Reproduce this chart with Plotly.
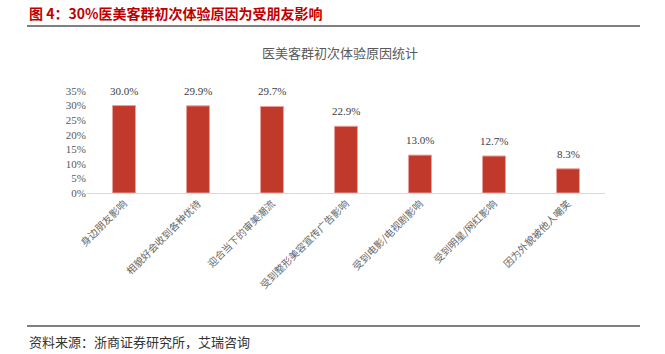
import plotly.graph_objects as go

categories = ["身边朋友影响", "相貌好会收到各种优待", "迎合当下的审美潮流", "受到整形美容宣传广告影响",
              "受到电影/电视剧影响", "受到明星/网红影响", "因为外貌被他人嘲笑"]
values = [0.300, 0.299, 0.297, 0.229, 0.130, 0.127, 0.083]
labels = ["30.0%", "29.9%", "29.7%", "22.9%", "13.0%", "12.7%", "8.3%"]
tick_vals = [0, 0.05, 0.10, 0.15, 0.20, 0.25, 0.30, 0.35]
tick_text = ["0%", "5%", "10%", "15%", "20%", "25%", "30%", "35%"]

W, H = 665, 354
PW, PH = W - 147, 102
def px(x):
    return (x - 87) / PW
def py(y):
    return (193 - y) / PH

fig = go.Figure(go.Bar(
    x=categories, y=values,
    marker=dict(color="#C0392B", line=dict(color="#E8A09A", width=1)),
    width=0.31, cliponaxis=False,
))
value_labels = [
    dict(x=c, y=v, text=t, xref="x", yref="y", showarrow=False, yanchor="bottom", yshift=7,
         font=dict(family="Liberation Serif", size=11, color="#404040"))
    for c, v, t in zip(categories, values, labels)
]
fig.update_layout(
    width=W, height=H, paper_bgcolor="white", plot_bgcolor="white",
    margin=dict(l=87, r=60, t=91, b=161),
    showlegend=False,
    xaxis=dict(tickangle=-45, tickfont=dict(family="Noto Sans CJK SC", size=10, color="#666666"),
               showline=True, linecolor="#D9D9D9", linewidth=1, ticks="", showgrid=False),
    yaxis=dict(range=[0, 0.35], tickvals=tick_vals, ticktext=tick_text,
               tickfont=dict(family="Liberation Serif", size=11, color="#595959"),
               showgrid=False, zeroline=False, showline=False, ticks=""),
    annotations=value_labels + [
        dict(text="<b>图\u00a04：30%医美客群初次体验原因为受朋友影响</b>", xref="paper", yref="paper",
             x=px(27), y=py(13), xanchor="left", yanchor="middle",
             showarrow=False, font=dict(family="Noto Sans CJK SC", size=14, color="#C00000")),
        dict(text="医美客群初次体验原因统计", xref="paper", yref="paper",
             x=px(340), y=py(52), xanchor="center", yanchor="middle",
             showarrow=False, font=dict(family="Noto Sans CJK SC", size=13, color="#595959")),
        dict(text="资料来源：浙商证券研究所，艾瑞咨询", xref="paper", yref="paper",
             x=px(27), y=py(341), xanchor="left", yanchor="middle",
             showarrow=False, font=dict(family="Noto Sans CJK SC", size=13, color="#333333")),
    ],
    shapes=[
        dict(type="line", xref="paper", yref="paper", x0=px(27), x1=px(640),
             y0=py(26), y1=py(26), line=dict(color="#808080", width=2)),
        dict(type="line", xref="paper", yref="paper", x0=px(27), x1=px(640),
             y0=py(326), y1=py(326), line=dict(color="#808080", width=2)),
    ],
)
fig.write_html("out.html")
